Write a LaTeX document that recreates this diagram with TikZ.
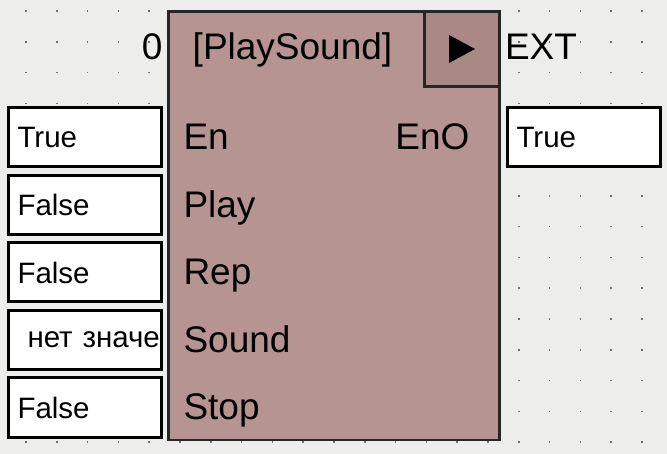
\documentclass[tikz,border=0pt]{standalone}
\usepackage{fontspec}
\setmainfont{Liberation Sans}
\usetikzlibrary{positioning}

\definecolor{canvasbg}{HTML}{EDEDEB}
\definecolor{blockfill}{HTML}{B69492}
\definecolor{playfill}{HTML}{A98886}
\definecolor{blockline}{HTML}{262626}
\definecolor{dotgray}{HTML}{707070}

\newcommand{\lblfont}{\fontsize{37}{41}\selectfont}
\newcommand{\pinfont}{\fontsize{29.5}{33}\selectfont}

\begin{document}
\begin{tikzpicture}[
                        x=1pt, y=-1pt,
                        node distance=67.5pt,
                        inner sep=0pt, outer sep=0pt,
                        block/.style={rectangle, draw=blockline, line width=2.5pt, fill=blockfill},
                        playbox/.style={rectangle, draw=blockline, line width=2.5pt, fill=playfill},
                        pinbox/.style={rectangle, draw=black, line width=3pt, fill=white, minimum height=59pt,
                                       text width=135pt, inner xsep=9pt, align=left, font=\pinfont},
                        pinlabel/.style={font=\lblfont, anchor=base west},
                        outlabel/.style={font=\lblfont}
                    ]
                    % Background and grid
                    \useasboundingbox (0,0) rectangle (667,454);
                    \fill[canvasbg] (0,0) rectangle (667,454);
                    \foreach \i in {0,...,20}
                        \foreach \j in {0,...,14}
                            \fill[dotgray] (25.2+30.8*\i, 10.2+30.8*\j) rectangle +(1.6,1.6);

                    % Blocks
                    \node [block, minimum width=331pt, minimum height=428.5pt] (block) at (334,225.75) {};
                    \node [playbox, minimum size=75pt, anchor=north east] (play) at (block.north east) {};
                    \fill [black, shift={(play.center)}] (-13,-14) -- (-13,14) -- (13,0) -- cycle;

                    % Inputs
                    \node [pinbox] (pEn) at (85,137.5) {True};
                    \node [pinbox, below of=pEn] (pPlay) {False};
                    \node [pinbox, below of=pPlay] (pRep) {False};
                    \node [pinbox, below of=pRep] (pSound) {\mbox{\hspace*{10pt}нет значе}};
                    \node [pinbox, below of=pSound] (pStop) {False};

                    % Output
                    \node [pinbox] (pEnO) at (584,137.5) {True};

                    % Texts
                    \node [outlabel, anchor=base] (title) at (292.5,60) {[PlaySound]};
                    \node [outlabel, anchor=base east] (num) at ([xshift=-6pt,yshift=-48.5pt]block.north west) {0};
                    \node [outlabel, anchor=base west] (ext) at ([xshift=5.5pt,yshift=-48.5pt]block.north east) {EXT};
                    \node [pinlabel] (lEn) at ([xshift=15pt,yshift=-12.5pt]block.west |- pEn) {En};
                    \node [pinlabel] (lPlay) at ([xshift=15pt,yshift=-12.5pt]block.west |- pPlay) {Play};
                    \node [pinlabel] (lRep) at ([xshift=15pt,yshift=-12.5pt]block.west |- pRep) {Rep};
                    \node [pinlabel] (lSound) at ([xshift=15pt,yshift=-12.5pt]block.west |- pSound) {Sound};
                    \node [pinlabel] (lStop) at ([xshift=15pt,yshift=-12.5pt]block.west |- pStop) {Stop};
                    \node [outlabel, anchor=base east] (lEnO) at ([xshift=-30pt,yshift=-12.5pt]block.east |- pEnO) {EnO};
                \end{tikzpicture}
\end{document}
